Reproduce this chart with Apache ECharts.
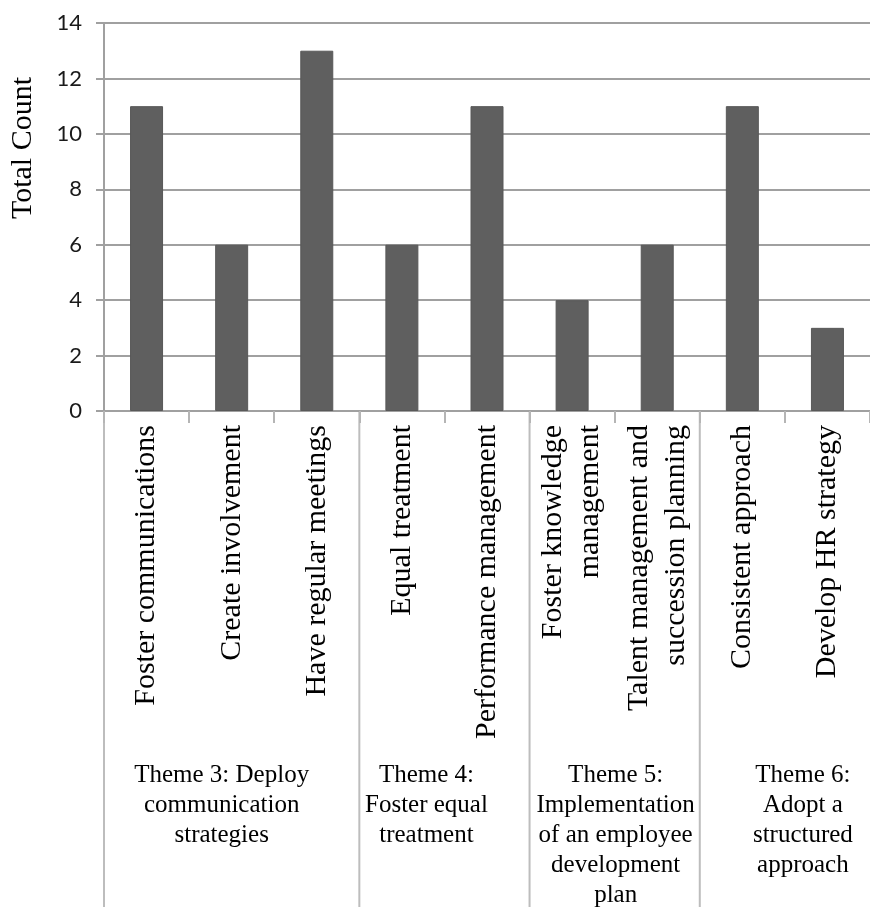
<!DOCTYPE html>
<html><head><meta charset="utf-8">
<script src="https://cdn.jsdelivr.net/npm/echarts@6/dist/echarts.min.js"></script>
<style>html,body{margin:0;padding:0;background:#fff}#c{width:870px;height:907px}</style>
</head><body><div id="c"></div>
<script>
// ---- data ----
const categories = [
  'Foster communications',
  'Create involvement',
  'Have regular meetings',
  'Equal treatment',
  'Performance management',
  'Foster knowledge\nmanagement',
  'Talent management and\nsuccession planning',
  'Consistent approach',
  'Develop HR strategy'
];
const counts = [11, 6, 13, 6, 11, 4, 6, 11, 3];
const themes = [
  'Theme 3: Deploy\ncommunication\nstrategies',
  'Theme 4:\nFoster equal\ntreatment',
  'Theme 5:\nImplementation\nof an employee\ndevelopment\nplan',
  'Theme 6:\nAdopt a\nstructured\napproach'
];
const themeSpans = [[0, 2], [3, 4], [5, 6], [7, 8]];
const yMin = 0, yMax = 14, yStep = 2;
const yTitle = 'Total Count';

// ---- layout / style ----
const themeDx = [-10, -18, 1, 18];
const themeTopBelowAxis = 349;
const gridCol = '#a0a0a0';

const chart = echarts.init(document.getElementById('c'), null, {renderer: 'canvas'});
const option = {
  animation: false,
  backgroundColor: '#ffffff',
  grid: {left: 104, top: 23, width: 774, height: 388, containLabel: false},
  xAxis: {
    type: 'category',
    data: categories,
    axisLine: {show: true, lineStyle: {color: gridCol, width: 2}},
    axisTick: {show: true, length: 12, lineStyle: {color: '#b5b5b5', width: 2}},
    axisLabel: {
      interval: 0, rotate: 90, margin: 14,
      fontFamily: 'Liberation Serif', fontSize: 30, color: '#000', lineHeight: 37
    },
    splitLine: {show: false}
  },
  yAxis: {
    type: 'value', min: yMin, max: yMax, interval: yStep,
    axisLine: {show: true, lineStyle: {color: gridCol, width: 2}},
    axisTick: {show: true, length: 8, lineStyle: {color: gridCol, width: 2}},
    axisLabel: {margin: 22, fontFamily: 'Lato', fontSize: 22, color: '#1a1a1a'},
    splitLine: {show: true, lineStyle: {color: gridCol, width: 2}}
  },
  series: [{
    type: 'bar',
    data: counts,
    barWidth: 33,
    itemStyle: {color: '#5f5f5f', borderColor: '#585858', borderWidth: 1}
  }]
};
chart.setOption(option);

// separators and theme labels derived from the axis positions
const pts = categories.map((c, i) => chart.convertToPixel({gridIndex: 0}, [i, 0]));
const half = (pts[1][0] - pts[0][0]) / 2;
const axisY = pts[0][1];
const H = chart.getHeight();
const elements = [];
themeSpans.forEach((s, k) => {
  const bx = pts[s[0]][0] - half;
  elements.push({
    type: 'line', silent: true,
    shape: {x1: bx, y1: axisY, x2: bx, y2: H},
    style: {stroke: '#bdbdbd', lineWidth: 2}
  });
  const cx = (pts[s[0]][0] + pts[s[1]][0]) / 2 + themeDx[k];
  elements.push({
    type: 'text', silent: true,
    x: cx, y: axisY + themeTopBelowAxis,
    style: {
      text: themes[k], fontFamily: 'Liberation Serif', fontSize: 25,
      lineHeight: 30, fill: '#000', align: 'center', verticalAlign: 'top'
    }
  });
});
elements.push({
  type: 'text', silent: true,
  x: 23, y: 148, rotation: Math.PI / 2,
  style: {
    text: yTitle, fontFamily: 'Liberation Serif', fontSize: 30, fill: '#000',
    align: 'center', verticalAlign: 'middle'
  }
});
chart.setOption({graphic: {elements: elements}});
</script>
</body></html>
